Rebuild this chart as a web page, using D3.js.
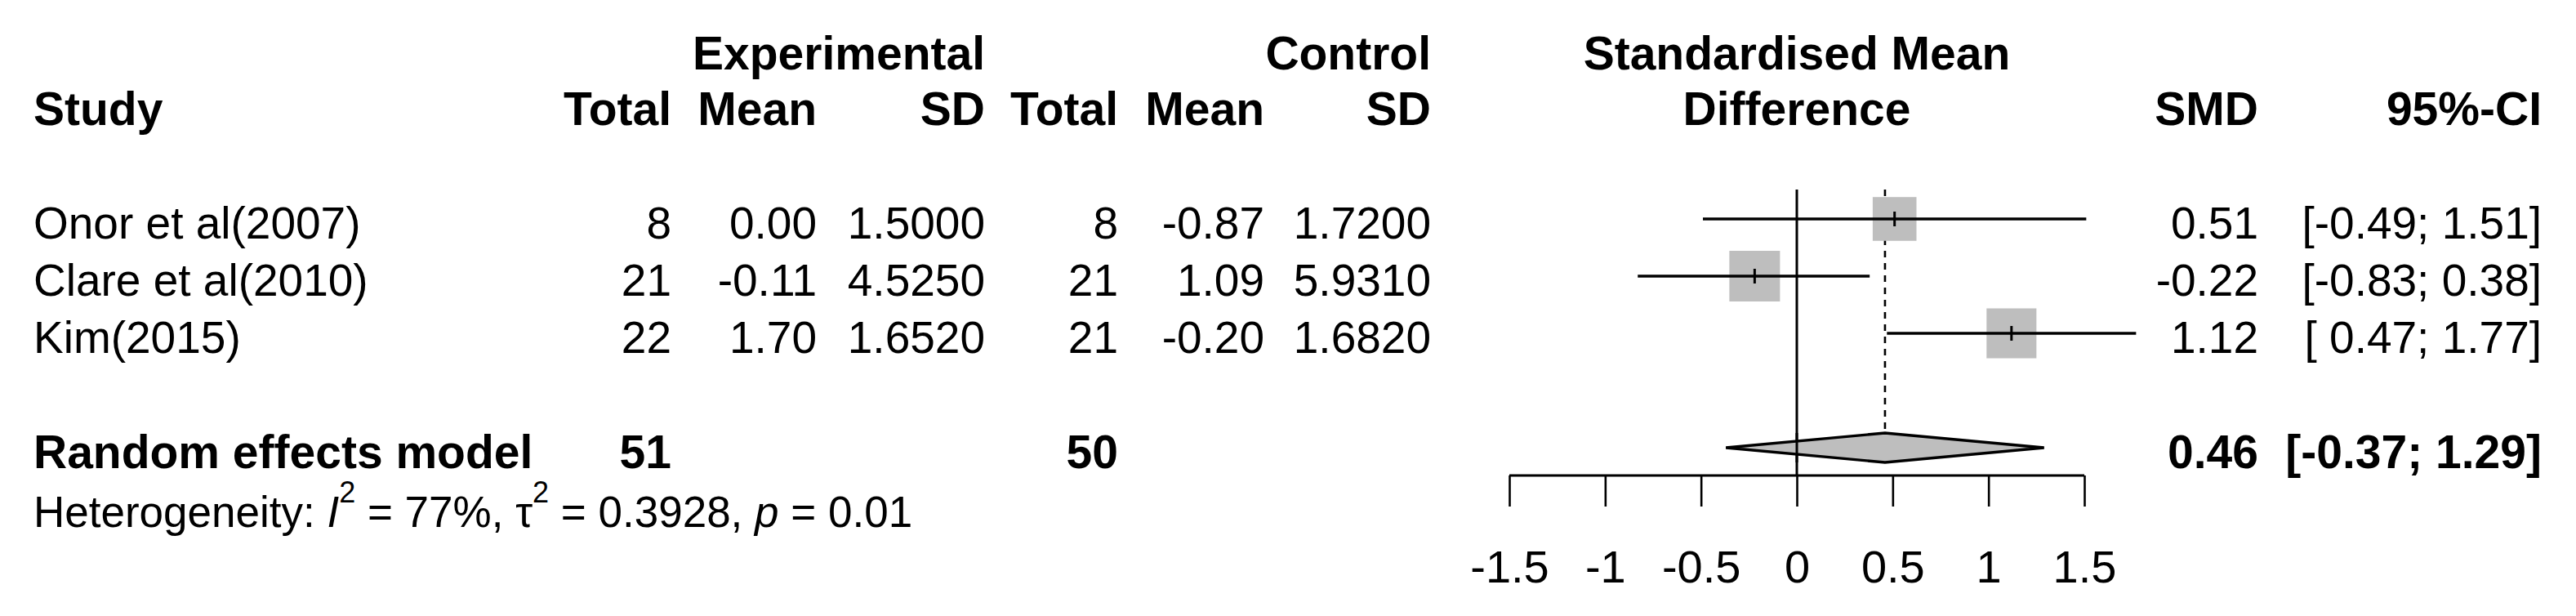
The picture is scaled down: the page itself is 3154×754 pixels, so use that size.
<!DOCTYPE html>
<html>
<head>
<meta charset="utf-8">
<script src="https://cdn.jsdelivr.net/npm/d3@7"></script>
<style>
  html, body { margin: 0; padding: 0; background: #ffffff; }
  svg { display: block; }
  text { font-family: "Liberation Sans", Arial, sans-serif; fill: #000; white-space: pre; }
</style>
</head>
<body>
<svg id="chart" width="3154" height="754"></svg>
<script>
// ---------------- data ----------------
const studies = ["Onor et al(2007)", "Clare et al(2010)", "Kim(2015)"];
const totalExp = [8, 21, 22];
const meanExp = [0.00, -0.11, 1.70];
const sdExp = [1.5000, 4.5250, 1.6520];
const totalCtrl = [8, 21, 21];
const meanCtrl = [-0.87, 1.09, -0.20];
const sdCtrl = [1.7200, 5.9310, 1.6820];
const smd = [0.51, -0.22, 1.12];
const ciLower = [-0.49, -0.83, 0.47];
const ciUpper = [1.51, 0.38, 1.77];
const weights = [27.5, 36.8, 35.7];   // random-effects weights (%)

const pooledLabel = "Random effects model";
const pooledTotals = [51, 50];
const pooledSmd = 0.46;
const pooledLower = -0.37;
const pooledUpper = 1.29;
const hetI2 = "77%";
const hetTau2 = "0.3928";
const hetP = "0.01";

const axisTicks = [-1.5, -1, -0.5, 0, 0.5, 1, 1.5];
const axisTickLabels = ["-1.5", "-1", "-0.5", "0", "0.5", "1", "1.5"];

// ---------------- layout ----------------
const svg = d3.select("#chart");
const FONT_REG = 55, FONT_BOLD = 57, FONT_HET = 53, FONT_TICK = 56;

const x = d3.scaleLinear().domain([-1.5, 1.5]).range([1848, 2552]);
const rowY = d3.scalePoint().domain(d3.range(6)).range([268, 618]); // rows 0..5 (spacing 70)
const colRight = { totE: 822, meanE: 1000, sdE: 1206, totC: 1369, meanC: 1548, sdC: 1752, smd: 2765, ci: 3112 };
const head1 = 85, head2 = 153;
const baseOff = 24;

function txt(xp, yp, s, opts = {}) {
  return svg.append("text")
    .attr("x", xp).attr("y", yp)
    .attr("text-anchor", opts.anchor || "start")
    .attr("font-size", opts.size || FONT_REG)
    .attr("font-weight", opts.bold ? "bold" : "normal")
    .text(s);
}

// ---------------- headers ----------------
txt(41, head2, "Study", { bold: true, size: FONT_BOLD });
txt(colRight.sdE, head1, "Experimental", { bold: true, size: FONT_BOLD, anchor: "end" });
txt(colRight.totE, head2, "Total", { bold: true, size: FONT_BOLD, anchor: "end" });
txt(colRight.meanE, head2, "Mean", { bold: true, size: FONT_BOLD, anchor: "end" });
txt(colRight.sdE, head2, "SD", { bold: true, size: FONT_BOLD, anchor: "end" });
txt(colRight.sdC, head1, "Control", { bold: true, size: FONT_BOLD, anchor: "end" });
txt(colRight.totC, head2, "Total", { bold: true, size: FONT_BOLD, anchor: "end" });
txt(colRight.meanC, head2, "Mean", { bold: true, size: FONT_BOLD, anchor: "end" });
txt(colRight.sdC, head2, "SD", { bold: true, size: FONT_BOLD, anchor: "end" });
const xMid = (x.range()[0] + x.range()[1]) / 2;
txt(xMid, head1, "Standardised Mean", { bold: true, size: FONT_BOLD, anchor: "middle" });
txt(xMid, head2, "Difference", { bold: true, size: FONT_BOLD, anchor: "middle" });
txt(colRight.smd, head2, "SMD", { bold: true, size: FONT_BOLD, anchor: "end" });
txt(colRight.ci, head2, "95%-CI", { bold: true, size: FONT_BOLD, anchor: "end" });

// ---------------- reference lines ----------------
const lineTop = 232;
const axisY = 582;
const diamondY = rowY(4);
const diamondHalf = 18;

svg.append("line")
  .attr("x1", x(0)).attr("x2", x(0))
  .attr("y1", lineTop).attr("y2", axisY)
  .attr("stroke", "#000").attr("stroke-width", 3);

svg.append("line")
  .attr("x1", x(pooledSmd)).attr("x2", x(pooledSmd))
  .attr("y1", lineTop).attr("y2", diamondY - diamondHalf)
  .attr("stroke", "#000").attr("stroke-width", 2.6)
  .attr("stroke-dasharray", "8,7");

// ---------------- study rows ----------------
const fmtCI = (lo, hi) => {
  const l = lo.toFixed(2), h = hi.toFixed(2);
  return "[" + (lo < 0 ? l : " " + l) + "; " + h + "]";
};
const maxW = d3.max(weights);
const boxSize = d3.scaleSqrt().domain([0, maxW]).range([0, 62]);

studies.forEach((s, i) => {
  const cy = rowY(i);
  const by = cy + baseOff;
  txt(41, by, s);
  txt(colRight.totE, by, String(totalExp[i]), { anchor: "end" });
  txt(colRight.meanE, by, meanExp[i].toFixed(2), { anchor: "end" });
  txt(colRight.sdE, by, sdExp[i].toFixed(4), { anchor: "end" });
  txt(colRight.totC, by, String(totalCtrl[i]), { anchor: "end" });
  txt(colRight.meanC, by, meanCtrl[i].toFixed(2), { anchor: "end" });
  txt(colRight.sdC, by, sdCtrl[i].toFixed(4), { anchor: "end" });
  txt(colRight.smd, by, smd[i].toFixed(2), { anchor: "end" });
  txt(colRight.ci, by, fmtCI(ciLower[i], ciUpper[i]), { anchor: "end" });

  const b = boxSize(weights[i]);
  svg.append("rect")
    .attr("x", x(smd[i]) - b / 2).attr("y", cy - b / 2)
    .attr("width", b).attr("height", b)
    .attr("fill", "#bebebe");
  svg.append("line")
    .attr("x1", x(ciLower[i])).attr("x2", x(ciUpper[i]))
    .attr("y1", cy).attr("y2", cy)
    .attr("stroke", "#000").attr("stroke-width", 3.4);
  svg.append("line")
    .attr("x1", x(smd[i])).attr("x2", x(smd[i]))
    .attr("y1", cy - 9).attr("y2", cy + 9)
    .attr("stroke", "#000").attr("stroke-width", 3);
});

// ---------------- pooled row ----------------
const py = diamondY + 25;
txt(41, py, pooledLabel, { bold: true, size: FONT_BOLD });
txt(colRight.totE, py, String(pooledTotals[0]), { bold: true, size: FONT_BOLD, anchor: "end" });
txt(colRight.totC, py, String(pooledTotals[1]), { bold: true, size: FONT_BOLD, anchor: "end" });
txt(colRight.smd, py, pooledSmd.toFixed(2), { bold: true, size: FONT_BOLD, anchor: "end" });
txt(colRight.ci, py, fmtCI(pooledLower, pooledUpper), { bold: true, size: FONT_BOLD, anchor: "end" });

const diamond = [
  [x(pooledLower), diamondY],
  [x(pooledSmd), diamondY - diamondHalf],
  [x(pooledUpper), diamondY],
  [x(pooledSmd), diamondY + diamondHalf]
];
svg.append("path")
  .attr("d", d3.line()(diamond) + "Z")
  .attr("fill", "#bebebe").attr("stroke", "#000").attr("stroke-width", 3.4);
// zero line visible over the diamond
svg.append("line")
  .attr("x1", x(0)).attr("x2", x(0))
  .attr("y1", diamondY - diamondHalf).attr("y2", diamondY + diamondHalf)
  .attr("stroke", "#000").attr("stroke-width", 3);

// ---------------- heterogeneity ----------------
const het = svg.append("text")
  .attr("x", 41).attr("y", 645)
  .attr("font-size", FONT_HET);
het.append("tspan").text("Heterogeneity: ");
het.append("tspan").attr("font-style", "italic").text("I");
het.append("tspan").attr("font-size", 36).attr("dy", -30).text("2");
het.append("tspan").attr("dy", 30).text(" = " + hetI2 + ", ");
het.append("tspan").text("\u03c4");
het.append("tspan").attr("font-size", 36).attr("dy", -30).text("2");
het.append("tspan").attr("dy", 30).text(" = " + hetTau2 + ", ");
het.append("tspan").attr("font-style", "italic").text("p");
het.append("tspan").text(" = " + hetP);

// ---------------- axis ----------------
const axisG = svg.append("g").attr("transform", `translate(0,${axisY})`);
axisG.call(d3.axisBottom(x).tickValues(axisTicks).tickSize(38).tickPadding(0)
  .tickFormat((d, i) => axisTickLabels[i]));
axisG.select(".domain").attr("stroke", "#000").attr("stroke-width", 3)
  .attr("d", `M${x.range()[0]},0H${x.range()[1]}`);
axisG.selectAll(".tick line").attr("stroke", "#000").attr("stroke-width", 2.6);
axisG.selectAll(".tick text")
  .attr("font-size", FONT_TICK)
  .attr("font-family", "Liberation Sans, Arial, sans-serif")
  .attr("fill", "#000")
  .attr("dy", null)
  .attr("y", 131);
</script>
</body>
</html>
